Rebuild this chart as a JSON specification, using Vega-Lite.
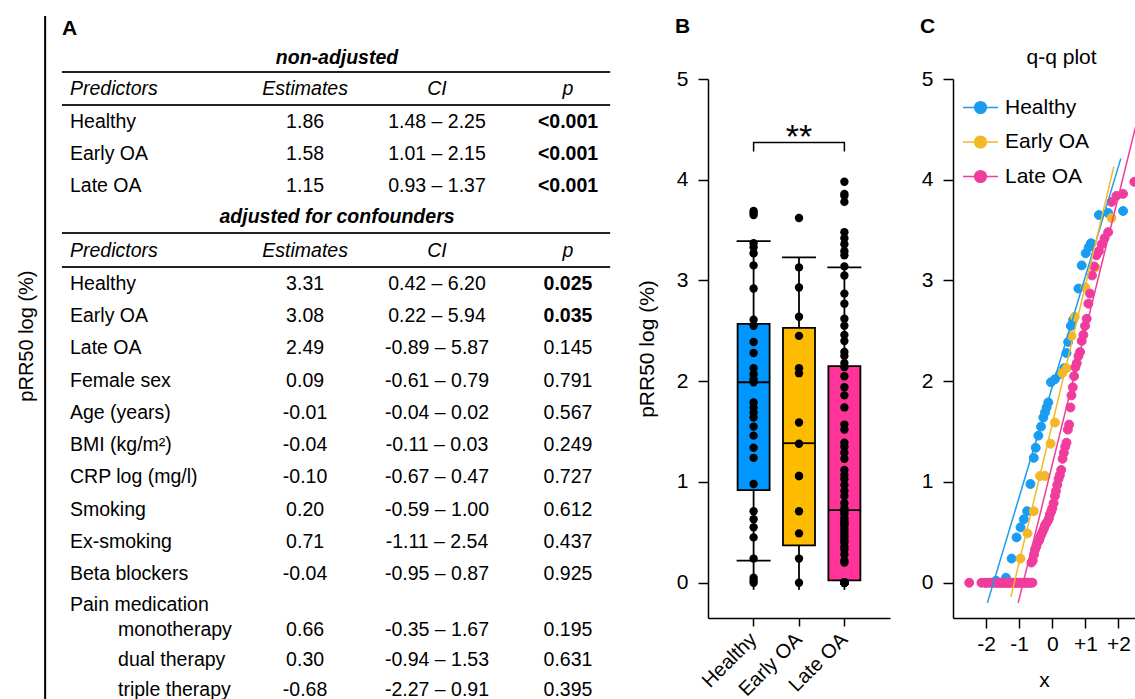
{
"$schema": "https://vega.github.io/schema/vega-lite/v6.json",
"padding": {"left": 0, "top": 15, "right": 0, "bottom": 0},
"bounds": "flush",
"spacing": 63,
"background": "white",
"resolve": {"scale": {"fill": "independent", "stroke": "independent", "color": "independent"}, "legend": {"fill": "independent", "stroke": "independent", "color": "independent"}},
"config": {
  "font": "Liberation Sans",
  "view": {"stroke": null},
  "axis": {"domainColor": "black", "domainWidth": 1.5, "tickColor": "black", "tickWidth": 1.5, "tickSize": 10, "labelColor": "black", "labelFontSize": 21, "labelFont": "Liberation Sans", "titleFont": "Liberation Sans", "titleFontWeight": "normal", "titleColor": "black", "titleFontSize": 21, "grid": false},
  "title": {"font": "Liberation Sans", "fontSize": 21, "fontWeight": "bold", "color": "black", "anchor": "start", "frame": "group"}
},
"datasets": {
  "pts": [
    {"g":"Healthy","v":0.00,"q":-2.00},{"g":"Healthy","v":0.02,"q":-1.70},{"g":"Healthy","v":0.05,"q":-1.40},{"g":"Healthy","v":0.24,"q":-1.23},{"g":"Healthy","v":0.45,"q":-1.08},{"g":"Healthy","v":0.55,"q":-0.96},{"g":"Healthy","v":0.63,"q":-0.86},{"g":"Healthy","v":0.71,"q":-0.76},{"g":"Healthy","v":0.98,"q":-0.66},{"g":"Healthy","v":1.24,"q":-0.56},{"g":"Healthy","v":1.34,"q":-0.50},{"g":"Healthy","v":1.46,"q":-0.42},{"g":"Healthy","v":1.55,"q":-0.34},{"g":"Healthy","v":1.64,"q":-0.27},{"g":"Healthy","v":1.69,"q":-0.22},{"g":"Healthy","v":1.74,"q":-0.17},{"g":"Healthy","v":1.79,"q":-0.12},{"g":"Healthy","v":1.99,"q":-0.04},{"g":"Healthy","v":2.02,"q":0.08},{"g":"Healthy","v":2.07,"q":0.23},{"g":"Healthy","v":2.13,"q":0.36},{"g":"Healthy","v":2.28,"q":0.43},{"g":"Healthy","v":2.39,"q":0.48},{"g":"Healthy","v":2.55,"q":0.56},{"g":"Healthy","v":2.61,"q":0.63},{"g":"Healthy","v":2.92,"q":0.79},{"g":"Healthy","v":3.15,"q":0.89},{"g":"Healthy","v":3.27,"q":1.01},{"g":"Healthy","v":3.33,"q":1.10},{"g":"Healthy","v":3.37,"q":1.17},{"g":"Healthy","v":3.65,"q":1.41},{"g":"Healthy","v":3.67,"q":1.69},{"g":"Healthy","v":3.69,"q":2.14},
    {"g":"Early OA","v":0.00,"q":-1.35},{"g":"Early OA","v":0.24,"q":-0.96},{"g":"Early OA","v":0.49,"q":-0.75},{"g":"Early OA","v":0.71,"q":-0.56},{"g":"Early OA","v":1.06,"q":-0.37},{"g":"Early OA","v":1.06,"q":-0.22},{"g":"Early OA","v":1.38,"q":-0.05},{"g":"Early OA","v":1.59,"q":0.08},{"g":"Early OA","v":2.08,"q":0.30},{"g":"Early OA","v":2.13,"q":0.43},{"g":"Early OA","v":2.45,"q":0.58},{"g":"Early OA","v":2.64,"q":0.68},{"g":"Early OA","v":2.93,"q":1.00},{"g":"Early OA","v":3.13,"q":1.30},{"g":"Early OA","v":3.62,"q":1.79},
    {"g":"Late OA","v":0,"q":-2.51},{"g":"Late OA","v":0,"q":-2.14},{"g":"Late OA","v":0,"q":-2.02},{"g":"Late OA","v":0,"q":-1.92},{"g":"Late OA","v":0,"q":-1.84},{"g":"Late OA","v":0,"q":-1.77},{"g":"Late OA","v":0,"q":-1.70},{"g":"Late OA","v":0,"q":-1.64},{"g":"Late OA","v":0,"q":-1.58},{"g":"Late OA","v":0,"q":-1.52},{"g":"Late OA","v":0,"q":-1.47},{"g":"Late OA","v":0,"q":-1.42},{"g":"Late OA","v":0,"q":-1.37},{"g":"Late OA","v":0,"q":-1.32},{"g":"Late OA","v":0,"q":-1.27},{"g":"Late OA","v":0,"q":-1.22},{"g":"Late OA","v":0,"q":-1.17},{"g":"Late OA","v":0,"q":-1.12},{"g":"Late OA","v":0,"q":-1.07},{"g":"Late OA","v":0,"q":-1.02},{"g":"Late OA","v":0,"q":-0.97},{"g":"Late OA","v":0,"q":-0.92},{"g":"Late OA","v":0,"q":-0.87},{"g":"Late OA","v":0,"q":-0.82},{"g":"Late OA","v":0,"q":-0.77},{"g":"Late OA","v":0,"q":-0.72},{"g":"Late OA","v":0,"q":-0.67},{"g":"Late OA","v":0,"q":-0.60},
    {"g":"Late OA","v":0.20,"q":-0.63},{"g":"Late OA","v":0.22,"q":-0.59},{"g":"Late OA","v":0.28,"q":-0.55},{"g":"Late OA","v":0.33,"q":-0.52},{"g":"Late OA","v":0.36,"q":-0.48},{"g":"Late OA","v":0.40,"q":-0.44},{"g":"Late OA","v":0.42,"q":-0.40},{"g":"Late OA","v":0.45,"q":-0.37},{"g":"Late OA","v":0.48,"q":-0.33},{"g":"Late OA","v":0.51,"q":-0.29},{"g":"Late OA","v":0.54,"q":-0.25},{"g":"Late OA","v":0.57,"q":-0.22},{"g":"Late OA","v":0.59,"q":-0.18},{"g":"Late OA","v":0.61,"q":-0.14},{"g":"Late OA","v":0.64,"q":-0.10},{"g":"Late OA","v":0.68,"q":-0.07},{"g":"Late OA","v":0.71,"q":-0.03},{"g":"Late OA","v":0.74,"q":0.00},{"g":"Late OA","v":0.79,"q":0.04},{"g":"Late OA","v":0.86,"q":0.08},{"g":"Late OA","v":0.91,"q":0.11},{"g":"Late OA","v":0.97,"q":0.15},{"g":"Late OA","v":1.03,"q":0.19},{"g":"Late OA","v":1.07,"q":0.23},{"g":"Late OA","v":1.12,"q":0.27},{"g":"Late OA","v":1.23,"q":0.31},{"g":"Late OA","v":1.29,"q":0.35},{"g":"Late OA","v":1.35,"q":0.39},{"g":"Late OA","v":1.39,"q":0.43},{"g":"Late OA","v":1.52,"q":0.47},{"g":"Late OA","v":1.57,"q":0.51},{"g":"Late OA","v":1.74,"q":0.55},{"g":"Late OA","v":1.86,"q":0.58},{"g":"Late OA","v":1.94,"q":0.62},{"g":"Late OA","v":2.05,"q":0.66},{"g":"Late OA","v":2.14,"q":0.70},{"g":"Late OA","v":2.18,"q":0.74},{"g":"Late OA","v":2.25,"q":0.79},{"g":"Late OA","v":2.29,"q":0.84},{"g":"Late OA","v":2.40,"q":0.89},{"g":"Late OA","v":2.46,"q":0.94},{"g":"Late OA","v":2.55,"q":0.99},{"g":"Late OA","v":2.62,"q":1.04},{"g":"Late OA","v":2.77,"q":1.09},{"g":"Late OA","v":2.87,"q":1.14},{"g":"Late OA","v":3.05,"q":1.20},{"g":"Late OA","v":3.14,"q":1.26},{"g":"Late OA","v":3.25,"q":1.33},{"g":"Late OA","v":3.29,"q":1.41},{"g":"Late OA","v":3.36,"q":1.49},{"g":"Late OA","v":3.42,"q":1.58},{"g":"Late OA","v":3.48,"q":1.69},{"g":"Late OA","v":3.78,"q":1.79},{"g":"Late OA","v":3.84,"q":1.94},{"g":"Late OA","v":3.86,"q":2.14},{"g":"Late OA","v":3.98,"q":2.48}
  ],
  "box": [
    {"g":"Healthy","lo":-0.07,"hi":3.39,"q1":0.92,"med":1.99,"q3":2.57,"capLo":0.22,"capHi":3.39},
    {"g":"Early OA","lo":-0.07,"hi":3.23,"q1":0.37,"med":1.385,"q3":2.53,"capLo":null,"capHi":3.23},
    {"g":"Late OA","lo":-0.07,"hi":3.13,"q1":0.023,"med":0.72,"q3":2.15,"capLo":null,"capHi":3.13}
  ],
  "qline": [
    {"g":"Healthy","q":-1.96,"v":-0.20},{"g":"Healthy","q":2.07,"v":4.21},
    {"g":"Early OA","q":-1.25,"v":-0.14},{"g":"Early OA","q":1.86,"v":4.13},
    {"g":"Late OA","q":-1.03,"v":-0.20},{"g":"Late OA","q":2.52,"v":4.53}
  ],
  "tbl": [
    {"r":-0.636,"kind":"sec","pred":"non-adjusted"},
    {"r":0.303,"kind":"head","pred":"Predictors","est":"Estimates","ci":"CI","p":"p"},
    {"r":1.303,"kind":"row","pred":"Healthy","est":"1.86","ci":"1.48 – 2.25","p":"<0.001","sig":true},
    {"r":2.273,"kind":"row","pred":"Early OA","est":"1.58","ci":"1.01 – 2.15","p":"<0.001","sig":true},
    {"r":3.242,"kind":"row","pred":"Late OA","est":"1.15","ci":"0.93 – 1.37","p":"<0.001","sig":true},
    {"r":4.182,"kind":"sec","pred":"adjusted for confounders"},
    {"r":5.212,"kind":"head","pred":"Predictors","est":"Estimates","ci":"CI","p":"p"},
    {"r":6.212,"kind":"row","pred":"Healthy","est":"3.31","ci":"0.42 – 6.20","p":"0.025","sig":true},
    {"r":7.188,"kind":"row","pred":"Early OA","est":"3.08","ci":"0.22 – 5.94","p":"0.035","sig":true},
    {"r":8.164,"kind":"row","pred":"Late OA","est":"2.49","ci":"-0.89 – 5.87","p":"0.145","sig":false},
    {"r":9.142,"kind":"row","pred":"Female sex","est":"0.09","ci":"-0.61 – 0.79","p":"0.791","sig":false},
    {"r":10.118,"kind":"row","pred":"Age (years)","est":"-0.01","ci":"-0.04 – 0.02","p":"0.567","sig":false},
    {"r":11.094,"kind":"row","pred":"BMI (kg/m²)","est":"-0.04","ci":"-0.11 – 0.03","p":"0.249","sig":false},
    {"r":12.07,"kind":"row","pred":"CRP log (mg/l)","est":"-0.10","ci":"-0.67 – 0.47","p":"0.727","sig":false},
    {"r":13.048,"kind":"row","pred":"Smoking","est":"0.20","ci":"-0.59 – 1.00","p":"0.612","sig":false},
    {"r":14.024,"kind":"row","pred":"Ex-smoking","est":"0.71","ci":"-1.11 – 2.54","p":"0.437","sig":false},
    {"r":15.0,"kind":"row","pred":"Beta blockers","est":"-0.04","ci":"-0.95 – 0.87","p":"0.925","sig":false},
    {"r":15.94,"kind":"row","pred":"Pain medication","est":"","ci":"","p":"","sig":false},
    {"r":16.697,"kind":"sub","pred":"monotherapy","est":"0.66","ci":"-0.35 – 1.67","p":"0.195","sig":false},
    {"r":17.606,"kind":"sub","pred":"dual therapy","est":"0.30","ci":"-0.94 – 1.53","p":"0.631","sig":false},
    {"r":18.515,"kind":"sub","pred":"triple therapy","est":"-0.68","ci":"-2.27 – 0.91","p":"0.395","sig":false}
  ]
},
"hconcat": [
  {
    "width": 645, "height": 621,
    "layer": [
      {"data": {"values": [{}]}, "mark": {"type": "rule", "stroke": "black", "strokeWidth": 2},
       "encoding": {"x": {"datum": 7.0, "type": "quantitative", "scale": {"domain": [0, 100], "nice": false, "zero": false}, "axis": null},
                    "y": {"datum": -1.909, "type": "quantitative", "scale": {"domain": [0, 18.818], "reverse": true, "nice": false, "zero": false}, "axis": null},
                    "y2": {"datum": 18.79}}},
      {"data": {"values": [{"r": -0.212}, {"r": 0.788}, {"r": 4.667}, {"r": 5.697}]}, "mark": {"type": "rule", "stroke": "#222", "strokeWidth": 1.8},
       "encoding": {"x": {"datum": 9.6, "type": "quantitative", "axis": null}, "x2": {"datum": 94.6},
                    "y": {"field": "r", "type": "quantitative", "axis": null}}},
      {"data": {"values": [{"t": "A"}]}, "mark": {"type": "text", "align": "left", "baseline": "middle", "fontSize": 21, "fontWeight": "bold", "color": "black"},
       "encoding": {"x": {"datum": 9.6, "type": "quantitative", "axis": null}, "y": {"datum": -1.515, "type": "quantitative", "axis": null}, "text": {"field": "t"}}},
      {"data": {"values": [{"t": "pRR50 log (%)"}]}, "mark": {"type": "text", "align": "center", "baseline": "middle", "fontSize": 20, "angle": 270, "color": "black"},
       "encoding": {"x": {"datum": 4.2, "type": "quantitative", "axis": null}, "y": {"datum": 7.79, "type": "quantitative", "axis": null}, "text": {"field": "t"}}},
      {"data": {"name": "tbl"}, "transform": [{"filter": "datum.kind == 'sec'"}], "mark": {"type": "text", "align": "center", "baseline": "middle", "fontSize": 19.5, "fontWeight": "bold", "fontStyle": "italic", "color": "black"},
       "encoding": {"x": {"datum": 52.25, "type": "quantitative", "axis": null}, "y": {"field": "r", "type": "quantitative", "axis": null}, "text": {"field": "pred"}}},
      {"data": {"name": "tbl"}, "transform": [{"filter": "datum.kind == 'head'"}], "mark": {"type": "text", "align": "left", "baseline": "middle", "fontSize": 19.5, "fontStyle": "italic", "color": "black"},
       "encoding": {"x": {"datum": 10.85, "type": "quantitative", "axis": null}, "y": {"field": "r", "type": "quantitative", "axis": null}, "text": {"field": "pred"}}},
      {"data": {"name": "tbl"}, "transform": [{"filter": "datum.kind == 'head'"}], "mark": {"type": "text", "align": "center", "baseline": "middle", "fontSize": 19.5, "fontStyle": "italic", "color": "black"},
       "encoding": {"x": {"datum": 47.3, "type": "quantitative", "axis": null}, "y": {"field": "r", "type": "quantitative", "axis": null}, "text": {"field": "est"}}},
      {"data": {"name": "tbl"}, "transform": [{"filter": "datum.kind == 'head'"}], "mark": {"type": "text", "align": "center", "baseline": "middle", "fontSize": 19.5, "fontStyle": "italic", "color": "black"},
       "encoding": {"x": {"datum": 67.75, "type": "quantitative", "axis": null}, "y": {"field": "r", "type": "quantitative", "axis": null}, "text": {"field": "ci"}}},
      {"data": {"name": "tbl"}, "transform": [{"filter": "datum.kind == 'head'"}], "mark": {"type": "text", "align": "center", "baseline": "middle", "fontSize": 19.5, "fontStyle": "italic", "color": "black"},
       "encoding": {"x": {"datum": 88.06, "type": "quantitative", "axis": null}, "y": {"field": "r", "type": "quantitative", "axis": null}, "text": {"field": "p"}}},
      {"data": {"name": "tbl"}, "transform": [{"filter": "datum.kind == 'row'"}], "mark": {"type": "text", "align": "left", "baseline": "middle", "fontSize": 19.5, "color": "black"},
       "encoding": {"x": {"datum": 10.85, "type": "quantitative", "axis": null}, "y": {"field": "r", "type": "quantitative", "axis": null}, "text": {"field": "pred"}}},
      {"data": {"name": "tbl"}, "transform": [{"filter": "datum.kind == 'sub'"}], "mark": {"type": "text", "align": "left", "baseline": "middle", "fontSize": 19.5, "color": "black"},
       "encoding": {"x": {"datum": 18.3, "type": "quantitative", "axis": null}, "y": {"field": "r", "type": "quantitative", "axis": null}, "text": {"field": "pred"}}},
      {"data": {"name": "tbl"}, "transform": [{"filter": "datum.kind == 'row' || datum.kind == 'sub'"}], "mark": {"type": "text", "align": "center", "baseline": "middle", "fontSize": 19.5, "color": "black"},
       "encoding": {"x": {"datum": 47.3, "type": "quantitative", "axis": null}, "y": {"field": "r", "type": "quantitative", "axis": null}, "text": {"field": "est"}}},
      {"data": {"name": "tbl"}, "transform": [{"filter": "datum.kind == 'row' || datum.kind == 'sub'"}], "mark": {"type": "text", "align": "center", "baseline": "middle", "fontSize": 19.5, "color": "black"},
       "encoding": {"x": {"datum": 67.75, "type": "quantitative", "axis": null}, "y": {"field": "r", "type": "quantitative", "axis": null}, "text": {"field": "ci"}}},
      {"data": {"name": "tbl"}, "transform": [{"filter": "(datum.kind == 'row' || datum.kind == 'sub') && !datum.sig"}], "mark": {"type": "text", "align": "center", "baseline": "middle", "fontSize": 19.5, "color": "black"},
       "encoding": {"x": {"datum": 88.06, "type": "quantitative", "axis": null}, "y": {"field": "r", "type": "quantitative", "axis": null}, "text": {"field": "p"}}},
      {"data": {"name": "tbl"}, "transform": [{"filter": "datum.sig == true"}], "mark": {"type": "text", "align": "center", "baseline": "middle", "fontSize": 19.5, "fontWeight": "bold", "color": "black"},
       "encoding": {"x": {"datum": 88.06, "type": "quantitative", "axis": null}, "y": {"field": "r", "type": "quantitative", "axis": null}, "text": {"field": "p"}}}
    ]
  },
  {
    "width": 182, "height": 539,
    "title": {"text": "B", "dx": -33, "offset": 31},
    "layer": [
      {"data": {"name": "box"}, "mark": {"type": "rule", "stroke": "black", "strokeWidth": 1.8},
       "encoding": {
         "x": {"field": "g", "type": "nominal", "sort": ["Healthy", "Early OA", "Late OA"], "scale": {"domain": ["Healthy", "Early OA", "Late OA"], "paddingInner": 0.295, "paddingOuter": 0.652}, "axis": {"title": null, "labelAngle": -45, "tickSize": 8, "labelPadding": 10, "labelBaseline": "middle", "labelFontSize": 20}},
         "y": {"field": "lo", "type": "quantitative", "title": "pRR50 log (%)", "scale": {"domain": [-0.35, 5], "nice": false, "zero": false}, "axis": {"values": [0, 1, 2, 3, 4, 5], "format": "d", "labelPadding": 10, "titlePadding": 19}},
         "y2": {"field": "hi"}}},
      {"data": {"name": "box"}, "mark": {"type": "bar", "stroke": "black", "strokeWidth": 1.8, "opacity": 1},
       "encoding": {
         "x": {"field": "g", "type": "nominal", "title": null},
         "y": {"field": "q1", "type": "quantitative", "title": "pRR50 log (%)"},
         "y2": {"field": "q3"},
         "fill": {"field": "g", "type": "nominal", "scale": {"domain": ["Healthy", "Early OA", "Late OA"], "range": ["#0096ff", "#ffbb00", "#ff3399"]}, "legend": null}}},
      {"data": {"name": "box"}, "mark": {"type": "tick", "color": "black", "size": 32, "thickness": 1.8, "opacity": 1},
       "encoding": {"x": {"field": "g", "type": "nominal", "title": null}, "y": {"field": "med", "type": "quantitative", "title": "pRR50 log (%)"}}},
      {"data": {"name": "pts"}, "mark": {"type": "circle", "color": "black", "size": 70, "opacity": 1},
       "encoding": {"x": {"field": "g", "type": "nominal", "title": null}, "y": {"field": "v", "type": "quantitative", "title": "pRR50 log (%)"}}},
      {"data": {"name": "box"}, "mark": {"type": "tick", "color": "black", "size": 34, "thickness": 1.8, "opacity": 1},
       "encoding": {"x": {"field": "g", "type": "nominal", "title": null}, "y": {"field": "capHi", "type": "quantitative", "title": "pRR50 log (%)"}}},
      {"data": {"name": "box"}, "transform": [{"filter": "datum.capLo != null"}], "mark": {"type": "tick", "color": "black", "size": 34, "thickness": 1.8, "opacity": 1},
       "encoding": {"x": {"field": "g", "type": "nominal", "title": null}, "y": {"field": "capLo", "type": "quantitative", "title": "pRR50 log (%)"}}},
      {"data": {"values": [{"g": "Healthy", "y": 4.28, "o": 1}, {"g": "Healthy", "y": 4.37, "o": 2}, {"g": "Late OA", "y": 4.37, "o": 3}, {"g": "Late OA", "y": 4.28, "o": 4}]},
       "mark": {"type": "line", "color": "black", "strokeWidth": 1.5},
       "encoding": {"x": {"field": "g", "type": "nominal", "title": null}, "y": {"field": "y", "type": "quantitative", "title": "pRR50 log (%)"}, "order": {"field": "o"}}},
      {"data": {"values": [{"g": "Early OA", "t": "**"}]}, "mark": {"type": "text", "fontSize": 34, "baseline": "alphabetic", "align": "center", "color": "black"},
       "encoding": {"x": {"field": "g", "type": "nominal", "title": null}, "y": {"datum": 4.32, "type": "quantitative", "title": "pRR50 log (%)"}, "text": {"field": "t"}}}
    ]
  },
  {
    "width": 182, "height": 539,
    "title": {"text": "C", "dx": -33, "offset": 10},
    "layer": [
      {"data": {"name": "pts"}, "mark": {"type": "point", "filled": true, "size": 80, "strokeWidth": 1, "opacity": 1, "clip": true},
       "encoding": {
         "x": {"field": "q", "type": "quantitative", "title": "x", "scale": {"domain": [-3, 2.5], "nice": false, "zero": false}, "axis": {"values": [-2, -1, 0, 1, 2], "labelExpr": "datum.value > 0 ? '+' + datum.value : '' + datum.value", "labelPadding": 5, "titlePadding": 15}},
         "y": {"field": "v", "type": "quantitative", "title": null, "scale": {"domain": [-0.35, 5], "nice": false, "zero": false}, "axis": {"values": [0, 1, 2, 3, 4, 5], "format": "d", "labelPadding": 10}},
         "fill": {"field": "g", "type": "nominal", "scale": {"domain": ["Healthy", "Early OA", "Late OA"], "range": ["#1a9cf0", "#f2b828", "#f03c9c"]},
                  "legend": {"title": null, "orient": "none", "legendX": 9, "legendY": 10, "symbolType": "M-1,0L1,0M-0.334,0A0.334,0.334,0,1,0,0.334,0A0.334,0.334,0,1,0,-0.334,0Z", "symbolSize": 1225, "symbolStrokeWidth": 1.5, "labelFontSize": 21, "labelColor": "black", "labelOffset": 6, "padding": 0, "rowPadding": 5.5, "labelFont": "Liberation Sans"}},
         "stroke": {"field": "g", "type": "nominal", "scale": {"domain": ["Healthy", "Early OA", "Late OA"], "range": ["#1a9cf0", "#f2b828", "#f03c9c"]},
                  "legend": {"title": null, "orient": "none", "legendX": 9, "legendY": 10, "symbolType": "M-1,0L1,0M-0.334,0A0.334,0.334,0,1,0,0.334,0A0.334,0.334,0,1,0,-0.334,0Z", "symbolSize": 1225, "symbolStrokeWidth": 1.5, "labelFontSize": 21, "labelColor": "black", "labelOffset": 6, "padding": 0, "rowPadding": 5.5, "labelFont": "Liberation Sans"}}}},
      {"data": {"name": "qline"}, "transform": [{"filter": "datum.g == 'Healthy'"}], "mark": {"type": "line", "strokeWidth": 1.5, "clip": true, "color": "#1a9cf0"},
       "encoding": {"x": {"field": "q", "type": "quantitative", "title": "x"}, "y": {"field": "v", "type": "quantitative", "title": null}}},
      {"data": {"name": "qline"}, "transform": [{"filter": "datum.g == 'Early OA'"}], "mark": {"type": "line", "strokeWidth": 1.5, "clip": true, "color": "#f2b828"},
       "encoding": {"x": {"field": "q", "type": "quantitative", "title": "x"}, "y": {"field": "v", "type": "quantitative", "title": null}}},
      {"data": {"name": "qline"}, "transform": [{"filter": "datum.g == 'Late OA'"}], "mark": {"type": "line", "strokeWidth": 1.5, "clip": true, "color": "#f03c9c"},
       "encoding": {"x": {"field": "q", "type": "quantitative", "title": "x"}, "y": {"field": "v", "type": "quantitative", "title": null}}},
      {"data": {"values": [{"t": "q-q plot"}]}, "mark": {"type": "text", "fontSize": 21, "align": "center", "baseline": "middle", "color": "black"},
       "encoding": {"x": {"datum": 0.28, "type": "quantitative", "title": "x"}, "y": {"datum": 5.21, "type": "quantitative", "title": null}, "text": {"field": "t"}}}
    ]
  }
]
}
